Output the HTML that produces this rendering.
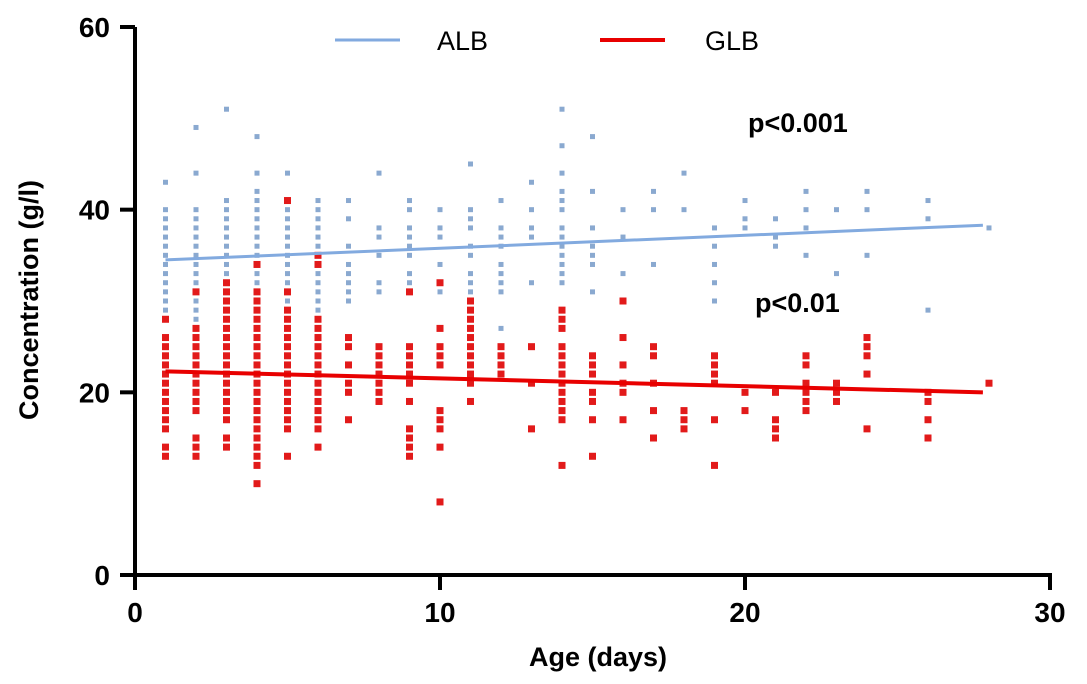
<!DOCTYPE html>
<html><head><meta charset="utf-8"><style>
body{margin:0;background:#fff;width:1087px;height:684px;overflow:hidden;position:relative}
svg{display:block;font-family:"Liberation Sans",Arial,sans-serif;font-weight:bold}
</style></head><body>
<svg id="chart" width="1087" height="684" viewBox="0 0 1087 684"></svg>
<script>
const days=[1,2,3,4,5,6,7,8,9,10,11,12,13,14,15,16,17,18,19,20,21,22,23,24,26,28];
const albValues=[
[43,40,39,38,37,36,35,34,33,32,31,30,29,28],
[49,44,40,39,38,37,36,35,34,33,32,31,30,29,28,27],
[51,41,40,39,38,37,36,35,34,33,32],
[48,44,42,41,40,39,38,37,36,35,34,33,32,31,30,29],
[44,40,39,38,37,36,35,34,33,32,31,30],
[41,40,39,38,37,36,35,34,33,32,31,30,29,28],
[41,39,36,34,33,32,31,30],
[44,38,37,35,32,31],
[41,40,38,37,36,35,33,32,31],
[40,38,37,34,31],
[45,40,39,38,36,35,33,32,31],
[41,38,37,36,34,33,32,31,27],
[43,40,38,37,32],
[51,47,44,42,41,40,38,37,36,35,34,33,32,27],
[48,42,38,36,35,34,31],
[40,37,33,30],
[42,40,34],
[44,40],
[38,36,34,32,30],
[41,39,38],
[39,37,36],
[42,40,38,35],
[40,33],
[42,40,35],
[41,39,29],
[38]];
const glbValues=[
[28,26,25,24,23,22,21,20,19,18,17,16,14,13],
[31,27,26,25,24,23,22,21,20,19,18,15,14,13],
[32,31,30,29,28,27,26,25,24,23,22,21,20,19,18,17,15,14],
[34,31,30,29,28,27,26,25,24,23,22,21,20,19,18,17,16,15,14,13,12,10],
[41,31,29,28,27,26,25,24,23,22,21,20,19,18,17,16,13],
[35,34,28,27,26,25,24,23,22,21,20,19,18,17,16,14],
[26,25,23,21,20,17],
[25,24,23,22,21,20,19],
[31,25,24,23,22,21,19,16,15,14,13],
[32,27,25,24,23,18,17,16,14,8],
[30,29,28,27,26,25,24,23,22,21,19],
[25,24,23,22],
[25,21,16],
[29,28,27,25,24,23,22,21,20,19,18,17,12],
[24,23,22,20,19,17,13],
[30,26,23,21,20,17],
[25,24,21,18,15],
[18,17,16],
[24,23,22,21,17,12],
[20,18],
[20,17,16,15],
[24,23,21,20,19,18],
[21,20,19],
[26,25,24,22,16],
[20,19,17,15],
[21]];
const albFit=[[1,34.5],[27.8,38.3]];
const glbFit=[[1,22.3],[27.8,20.0]];
const xTicks=[0,10,20,30];
const yTicks=[0,20,40,60];

const NS="http://www.w3.org/2000/svg";
const svg=document.getElementById('chart');
const X=v=>135+v*(1050-135)/30;
const Y=v=>575-v*(575-27)/60;
function mk(t,a,p){const e=document.createElementNS(NS,t);for(const k in a)e.setAttribute(k,a[k]);(p||svg).appendChild(e);return e;}

const pts=mk('g',{});


days.forEach((d,i)=>{
  albValues[i].forEach(v=>{
    const c=mk('rect',{x:X(d)-2.5,y:Y(v)-2.5,width:5,height:5,fill:'#8aa9d0'},pts);
    
    
  });
});
days.forEach((d,i)=>{
  glbValues[i].forEach(v=>{
    const c=mk('rect',{x:X(d)-3.5,y:Y(v)-3.5,width:7,height:7,fill:'#e21a1a'},pts);
    
    
  });
});
const la=mk('line',{x1:X(albFit[0][0]),y1:Y(albFit[0][1]),x2:X(albFit[1][0]),y2:Y(albFit[1][1]),stroke:'#82aadf','stroke-width':3});


const lg=mk('line',{x1:X(glbFit[0][0]),y1:Y(glbFit[0][1]),x2:X(glbFit[1][0]),y2:Y(glbFit[1][1]),stroke:'#e80000','stroke-width':4});



const ya=mk('line',{x1:135,y1:27,x2:135,y2:577,stroke:'#000','stroke-width':4});


const xa=mk('line',{x1:133,y1:575,x2:1052,y2:575,stroke:'#000','stroke-width':4});


yTicks.forEach(t=>{
  mk('line',{x1:120,y1:Y(t),x2:135,y2:Y(t),stroke:'#000','stroke-width':4});
  const tx=mk('text',{x:110,y:Y(t)+10,'text-anchor':'end','font-size':28,fill:'#000'});
  tx.textContent=t;
  
  
});
xTicks.forEach(t=>{
  mk('line',{x1:X(t),y1:575,x2:X(t),y2:590,stroke:'#000','stroke-width':4});
  const tx=mk('text',{x:X(t),y:622,'text-anchor':'middle','font-size':28,fill:'#000'});
  tx.textContent=t;
  
  
});
</script>
<svg style="position:absolute;left:0;top:0" width="1087" height="684">
<text x="598" y="666" text-anchor="middle" font-size="27" font-family="Liberation Sans, sans-serif" font-weight="bold">Age (days)</text>
<text transform="translate(38,300) rotate(-90)" text-anchor="middle" font-size="27" font-family="Liberation Sans, sans-serif" font-weight="bold">Concentration (g/l)</text>
<line x1="335" y1="40" x2="400" y2="40" stroke="#82aadf" stroke-width="3"/>
<text x="437" y="50" font-size="27" font-family="Liberation Sans, sans-serif" font-weight="normal">ALB</text>
<line x1="600" y1="40" x2="665" y2="40" stroke="#e80000" stroke-width="4"/>
<text x="705" y="50" font-size="27" font-family="Liberation Sans, sans-serif" font-weight="normal">GLB</text>
<text x="748" y="132" font-size="27" font-family="Liberation Sans, sans-serif" font-weight="bold">p&lt;0.001</text>
<text x="755" y="312" font-size="27" font-family="Liberation Sans, sans-serif" font-weight="bold">p&lt;0.01</text>
</svg>
</body></html>
